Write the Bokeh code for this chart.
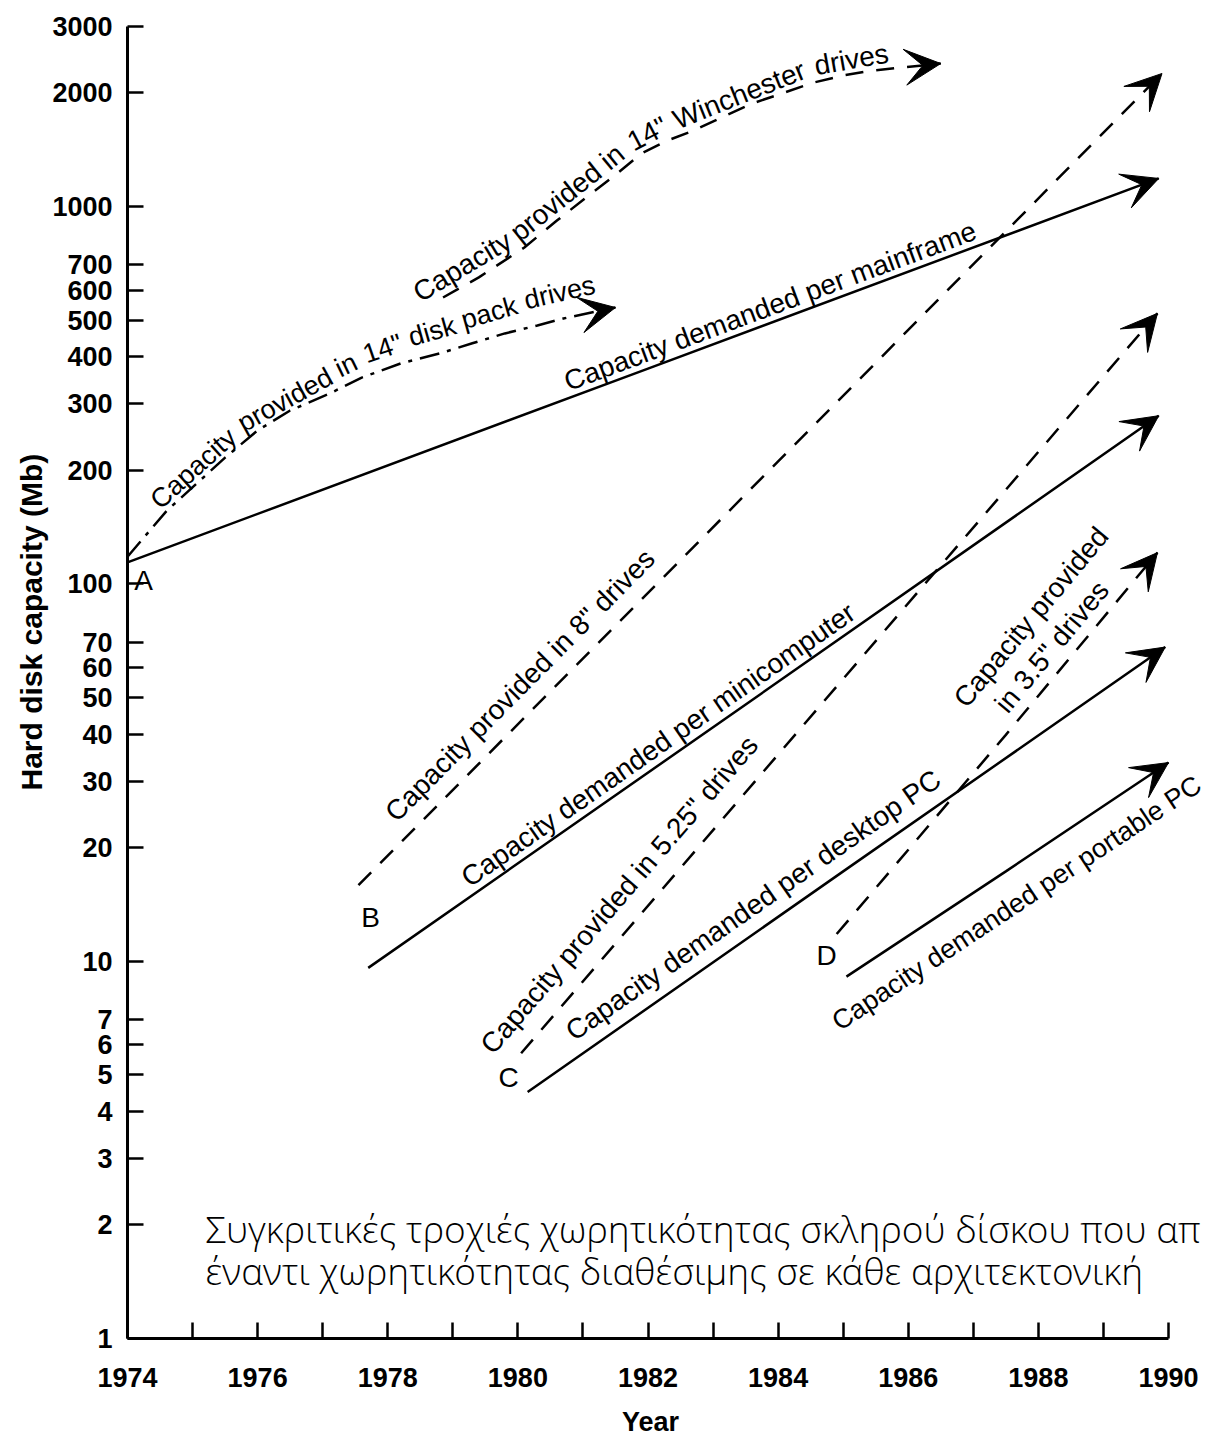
import math
from bokeh.plotting import figure
from bokeh.models import Range1d, FixedTicker, Label, Arrow, VeeHead, Title
from bokeh.embed import file_html
from bokeh.resources import INLINE

# ---------------- data ----------------
x_tick_years = list(range(1974, 1991))
x_tick_labels = [str(y) if y % 2 == 0 else "" for y in x_tick_years]
y_tick_values = [1, 2, 3, 4, 5, 6, 7, 10, 20, 30, 40, 50, 60, 70,
                 100, 200, 300, 400, 500, 600, 700, 1000, 2000, 3000]
y_tick_labels = [str(v) for v in y_tick_values]

mainframe_year = [1974.0, 1982.0, 1989.85]
mainframe_mb = [114, 372, 1187]

diskpack_year = [1974.0, 1974.6, 1975.5, 1976.0, 1976.5, 1977.1, 1977.6,
                 1978.2, 1978.8, 1979.3, 1979.8, 1980.3, 1980.7, 1981.5]
diskpack_mb = [118, 156, 216, 255, 288, 319, 352, 384, 408, 434, 461, 484, 505, 540]

winchester_year = [1978.85, 1979.4, 1980.1, 1980.6, 1981.05, 1981.45, 1981.9, 1982.3,
                   1982.7, 1983.1, 1983.6, 1984.1, 1984.55, 1985.0, 1985.45, 1986.5]
winchester_mb = [574, 649, 779, 918, 1057, 1194, 1382, 1496,
                 1590, 1711, 1875, 2005, 2132, 2225, 2293, 2393]

eight_year = [1977.55, 1984.0, 1989.9]
eight_mb = [15.9, 211, 2252]

mini_year = [1977.7, 1984.0, 1989.85]
mini_mb = [9.6, 55, 279]

five_year = [1980.05, 1985.0, 1989.83]
five_mb = [5.7, 56, 521]

desktop_year = [1980.15, 1985.0, 1989.95]
desktop_mb = [4.5, 17.3, 68]

three_year = [1984.9, 1987.5, 1989.83]
three_mb = [11.8, 39.8, 121]

portable_year = [1985.05, 1987.5, 1990.0]
portable_mb = [9.1, 17.3, 33.6]

caption_lines = ["Συγκριτικές τροχιές χωρητικότητας σκληρού δίσκου που απ",
                 "έναντι χωρητικότητας διαθέσιμης σε κάθε αρχιτεκτονική"]

# ---------------- layout ----------------
W_FIG, H_FIG = 1218, 1440
FL, FT, FH = 127, 26, 1312            # plot frame position/height in canvas pixels
X0, X_LAST = 1974, 1990               # axis drawn from 1974 to 1990
SX = 1041 / (X_LAST - X0)             # pixels per year
FW = W_FIG - FL                       # frame runs to the right edge (room for labels)
X1 = X0 + FW / SX
LTOP = math.log10(3000)
SY = FH / LTOP


def to_px(x, y):
    return FL + (x - X0) * SX, FT + (LTOP - math.log10(y)) * SY


def to_data(px, py):
    return X0 + (px - FL) / SX, 10 ** (LTOP - (py - FT) / SY)


FONT = "Liberation Sans"
ARIAL_W = {" ": 278, '"': 355, "(": 333, ")": 333, ".": 278, "C": 722, "P": 667,
           "W": 944, "a": 556, "b": 556, "c": 500, "d": 556, "e": 556, "f": 278,
           "h": 556, "i": 222, "k": 500, "l": 222, "m": 833, "n": 556, "o": 556,
           "p": 556, "r": 333, "s": 500, "t": 278, "u": 556, "v": 500, "y": 500}
LSIZE = 28


def text_w(t, size):
    return sum(ARIAL_W.get(c, 556) for c in t) * size / 1000.0


def point_at(pts, s):
    if s <= 0:
        (x0, y0), (x1, y1) = pts[0], pts[1]
        L = math.hypot(x1 - x0, y1 - y0)
        return x0 + (x1 - x0) / L * s, y0 + (y1 - y0) / L * s
    acc = 0.0
    for i in range(len(pts) - 1):
        (x0, y0), (x1, y1) = pts[i], pts[i + 1]
        L = math.hypot(x1 - x0, y1 - y0)
        if acc + L >= s:
            t = (s - acc) / L
            return x0 + (x1 - x0) * t, y0 + (y1 - y0) * t
        acc += L
    (x0, y0), (x1, y1) = pts[-2], pts[-1]
    L = math.hypot(x1 - x0, y1 - y0)
    e = s - acc
    return x1 + (x1 - x0) / L * e, y1 + (y1 - y0) / L * e


def path_label(p, xs, ys, words, s0, d, size=LSIZE, d_end=None):
    """Place words along a series' path, offset d px to its upper-left side."""
    pts = [to_px(x, y) for x, y in zip(xs, ys)]
    s = s0
    n = len(words)
    for i, w in enumerate(words):
        dd = d if d_end is None or n == 1 else d + (d_end - d) * i / (n - 1)
        ww = text_w(w, size)
        a = point_at(pts, s)
        b = point_at(pts, s + ww)
        dx, dy = b[0] - a[0], b[1] - a[1]
        L = math.hypot(dx, dy)
        ux, uy = dx / L, dy / L
        nx, ny = uy, -ux
        X, Y = to_data(a[0] + dd * nx, a[1] + dd * ny)
        p.add_layout(Label(x=X, y=Y, text=w, angle=math.atan2(-dy, dx),
                           text_align="left", text_baseline="alphabetic",
                           text_font=FONT, text_font_size=f"{size}px", text_color="black"))
        s += ww + text_w(" ", size)


p = figure(width=W_FIG, height=H_FIG, x_range=Range1d(X0, X1), y_range=Range1d(1, 3000),
           y_axis_type="log", output_backend="svg", toolbar_location=None,
           min_border_left=FL, min_border_top=FT,
           min_border_right=0, min_border_bottom=H_FIG - FT - FH)
p.outline_line_color = None
p.grid.visible = False
p.background_fill_color = "white"

p.xaxis.ticker = FixedTicker(ticks=x_tick_years)
p.xaxis.major_label_overrides = {y: l for y, l in zip(x_tick_years, x_tick_labels)}
p.xaxis.bounds = (X0, X_LAST)
p.yaxis.ticker = FixedTicker(ticks=y_tick_values)
p.yaxis.major_label_overrides = {v: l for v, l in zip(y_tick_values, y_tick_labels)}
for ax in (p.xaxis[0], p.yaxis[0]):
    ax.axis_line_width = 3
    ax.axis_line_color = "black"
    ax.major_tick_in = 16
    ax.major_tick_out = 0
    ax.minor_tick_in = 0
    ax.minor_tick_out = 0
    ax.major_tick_line_width = 2.5
    ax.major_tick_line_color = "black"
    ax.major_label_text_font = FONT
    ax.major_label_text_font_size = "27px"
    ax.major_label_text_font_style = "bold"
    ax.major_label_text_color = "black"
p.xaxis.major_label_standoff = 29
p.yaxis.major_label_standoff = 15

# x axis title: centred under the 1974-1990 part of the axis (frame is wider)
pad = "\u00a0" * 6
p.xaxis.axis_label = "Year" + pad
p.xaxis.axis_label_standoff = 17
p.xaxis.axis_label_text_font = FONT
p.xaxis.axis_label_text_font_size = "27px"
p.xaxis.axis_label_text_font_style = "bold"
p.xaxis.axis_label_text_color = "black"

# y axis title
p.add_layout(Title(text="Hard disk capacity (Mb)", align="left", offset=548, standoff=4,
                   text_font=FONT, text_font_size="30px", text_font_style="bold",
                   text_color="black"), "left")

SOLID = dict(line_color="black", line_width=2.5)
DASH = dict(line_color="black", line_width=2.5, line_dash="18 13")
DASHDOT = dict(line_color="black", line_width=2.5, line_dash="20 8 4 8")

series = [
    (mainframe_year, mainframe_mb, SOLID),
    (diskpack_year, diskpack_mb, DASHDOT),
    (winchester_year, winchester_mb, DASH),
    (eight_year, eight_mb, DASH),
    (mini_year, mini_mb, SOLID),
    (five_year, five_mb, DASH),
    (desktop_year, desktop_mb, SOLID),
    (three_year, three_mb, DASH),
    (portable_year, portable_mb, SOLID),
]
for xs, ys, style in series:
    p.line(xs, ys, **style)
    p.add_layout(Arrow(end=VeeHead(size=36, fill_color="black", line_color="black", line_width=1),
                       x_start=xs[-2], y_start=ys[-2], x_end=xs[-1], y_end=ys[-1],
                       line_alpha=0))

# ---------------- labels along the lines ----------------
path_label(p, mainframe_year, mainframe_mb, ["Capacity demanded per mainframe"], 473, 16)
path_label(p, diskpack_year, diskpack_mb,
           ["Capacity", "provided", "in", '14"', "disk", "pack", "drives"], 56, 14,
           size=27, d_end=27)
path_label(p, winchester_year, winchester_mb,
           ["Capacity", "provided", "in", '14"', "Winchester", "drives"], -22, 16)
path_label(p, eight_year, eight_mb, ['Capacity provided in 8" drives'], 71, 26)
path_label(p, mini_year, mini_mb, ["Capacity demanded per minicomputer"], 129, 17)
path_label(p, five_year, five_mb, ['Capacity provided in 5.25" drives'], -20, 29)
path_label(p, desktop_year, desktop_mb, ["Capacity demanded per desktop PC"], 67, 24)
path_label(p, three_year, three_mb, ["Capacity provided"], 256, 56)
path_label(p, three_year, three_mb, ['in 3.5" drives'], 278, 21)
path_label(p, portable_year, portable_mb, ["Capacity demanded per portable PC"], -36, -33, size=27)

for letter, (px, py) in zip(["A", "B", "C", "D"], [(143, 580), (370, 917), (508, 1077), (826, 955)]):
    X, Y = to_data(px, py)
    p.add_layout(Label(x=X, y=Y, text=letter, text_align="center", text_baseline="middle",
                       text_font=FONT, text_font_size="28px", text_color="black"))

# caption overlay
for line, py in zip(caption_lines, [1228, 1270]):
    X, Y = to_data(205, py)
    p.add_layout(Label(x=X, y=Y, text=line, text_align="left", text_baseline="alphabetic",
                       text_font="Open Sans Light, Open Sans, sans-serif", text_font_size="37px",
                       text_color="black"))

open("out.html", "w").write(file_html(p, INLINE))
